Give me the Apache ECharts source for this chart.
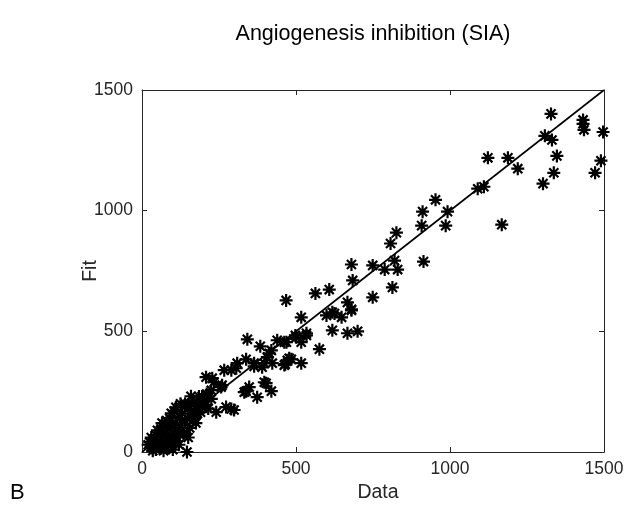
<!DOCTYPE html>
<html>
<head>
<meta charset="utf-8">
<script src="https://cdn.jsdelivr.net/npm/echarts@6/dist/echarts.min.js"></script>
<style>html,body{margin:0;padding:0;background:#fff;}#c{width:637px;height:508px;}</style>
</head>
<body>
<div id="c"></div>
<script>
const titleText = "Angiogenesis inhibition (SIA)";
const xLabel = "Data";
const yLabel = "Fit";
const panelLabel = "B";
const xTicks = [0, 500, 1000, 1500];
const yTicks = [0, 500, 1000, 1500];
const identityLine = [[0, 0], [1500, 1500]];
const dataX = [
  1328,1432,1432,1435,1497,1308,1331,1347,1490,1337,1471,1302,1123,1188,1220,1090,1110,1168,953,911,
  992,908,986,826,807,914,820,788,830,813,749,749,680,684,468,563,608,667,680,517,
  599,625,648,618,667,700,576,498,534,517,517,465,485,439,342,384,420,407,338,364,
  390,267,306,208,234,260,338,374,403,420,348,159,290,273,241,195,137,146,
  618,680,462,501,534,472,413,423,469,309,364,290,228,397,462,478,397,332,225,257,299,
  30,40,45,50,55,60,65,70,75,80,85,90,95,100,100,105,110,115,120,125,
  130,135,140,150,155,160,165,170,175,180,185,190,200,210,215,225,60,45,80,95,
  110,125,35,70,115,25,
  20,50,65,90,105,140,160,195,205,120,150,170,30,85,100,180
];
const dataY = [
  1401,1376,1360,1335,1326,1310,1293,1227,1207,1157,1157,1112,1219,1219,1174,1091,1099,942,1045,996,
  996,938,938,909,864,789,793,756,756,682,773,641,777,711,628,657,673,620,591,558,
  566,574,558,504,492,500,426,483,483,455,368,364,384,463,467,438,421,393,384,355,
  351,339,347,310,289,277,252,227,285,252,269,231,178,186,165,202,79,0,
  579,587,455,475,492,380,409,368,455,368,368,339,306,368,360,388,289,248,256,269,174,
  20,45,10,30,60,15,40,80,25,55,100,35,70,120,10,50,90,140,30,110,
  160,75,130,180,100,200,150,210,120,190,230,165,210,240,180,220,90,70,130,160,
  185,200,5,5,60,40,
  30,90,120,140,170,200,170,230,195,80,60,140,60,20,40,160
];

const points = dataX.map((x, i) => [x, dataY[i]]);
const axisColor = '#262626';
const font = 'Liberation Sans, Arial, Helvetica, sans-serif';
const starPath = 'path://M5 0 L5 10 M0 5 L10 5 M1.5 1.5 L8.5 8.5 M8.5 1.5 L1.5 8.5';

const chart = echarts.init(document.getElementById('c'), null, {renderer: 'canvas'});
const baseAxis = {
  min: xTicks[0], max: xTicks[xTicks.length - 1], interval: 500,
  axisLine: {show: true, onZero: false, lineStyle: {color: axisColor, width: 1}},
  axisTick: {show: true, inside: true, length: 5, lineStyle: {color: axisColor}},
  splitLine: {show: false}
};
const fmt = v => String(v);
chart.setOption({
  animation: false,
  title: {
    text: titleText, left: 368, top: 18, textAlign: 'center',
    textStyle: {fontFamily: font, fontSize: 21.5, fontWeight: 'normal', color: '#000'}
  },
  grid: {left: 142, top: 90, width: 462, height: 362},
  xAxis: [
    Object.assign({}, baseAxis, {type: 'value', position: 'bottom',
      axisLabel: {show: true, color: axisColor, fontFamily: font, fontSize: 17.5, margin: 8, formatter: fmt}}),
    Object.assign({}, baseAxis, {type: 'value', position: 'top', axisLabel: {show: false}})
  ],
  yAxis: [
    Object.assign({}, baseAxis, {type: 'value', min: yTicks[0], max: yTicks[yTicks.length - 1], position: 'left',
      axisLabel: {show: true, color: axisColor, fontFamily: font, fontSize: 17.5, margin: 9, formatter: fmt}}),
    Object.assign({}, baseAxis, {type: 'value', min: yTicks[0], max: yTicks[yTicks.length - 1], position: 'right', axisLabel: {show: false}})
  ],
  series: [
    {
      type: 'scatter', data: points, symbol: starPath, symbolSize: 13,
      itemStyle: {color: 'rgba(0,0,0,0)', borderColor: '#000', borderWidth: 2.2, opacity: 1},
      z: 2
    },
    {
      type: 'line', data: identityLine, showSymbol: false, symbol: 'none',
      lineStyle: {color: '#000', width: 1.6}, z: 3
    }
  ],
  graphic: [
    {type: 'text', x: 378, y: 493,
      style: {text: xLabel, font: '19.5px ' + font, fill: '#262626', align: 'center', verticalAlign: 'middle'}},
    {type: 'text', x: 91, y: 271, rotation: Math.PI / 2,
      style: {text: yLabel, font: '19.5px ' + font, fill: '#262626', align: 'center', verticalAlign: 'middle'}},
    {type: 'text', x: 10, y: 493,
      style: {text: panelLabel, font: '22px ' + font, fill: '#000', align: 'left', verticalAlign: 'middle'}}
  ]
});
</script>
</body>
</html>
